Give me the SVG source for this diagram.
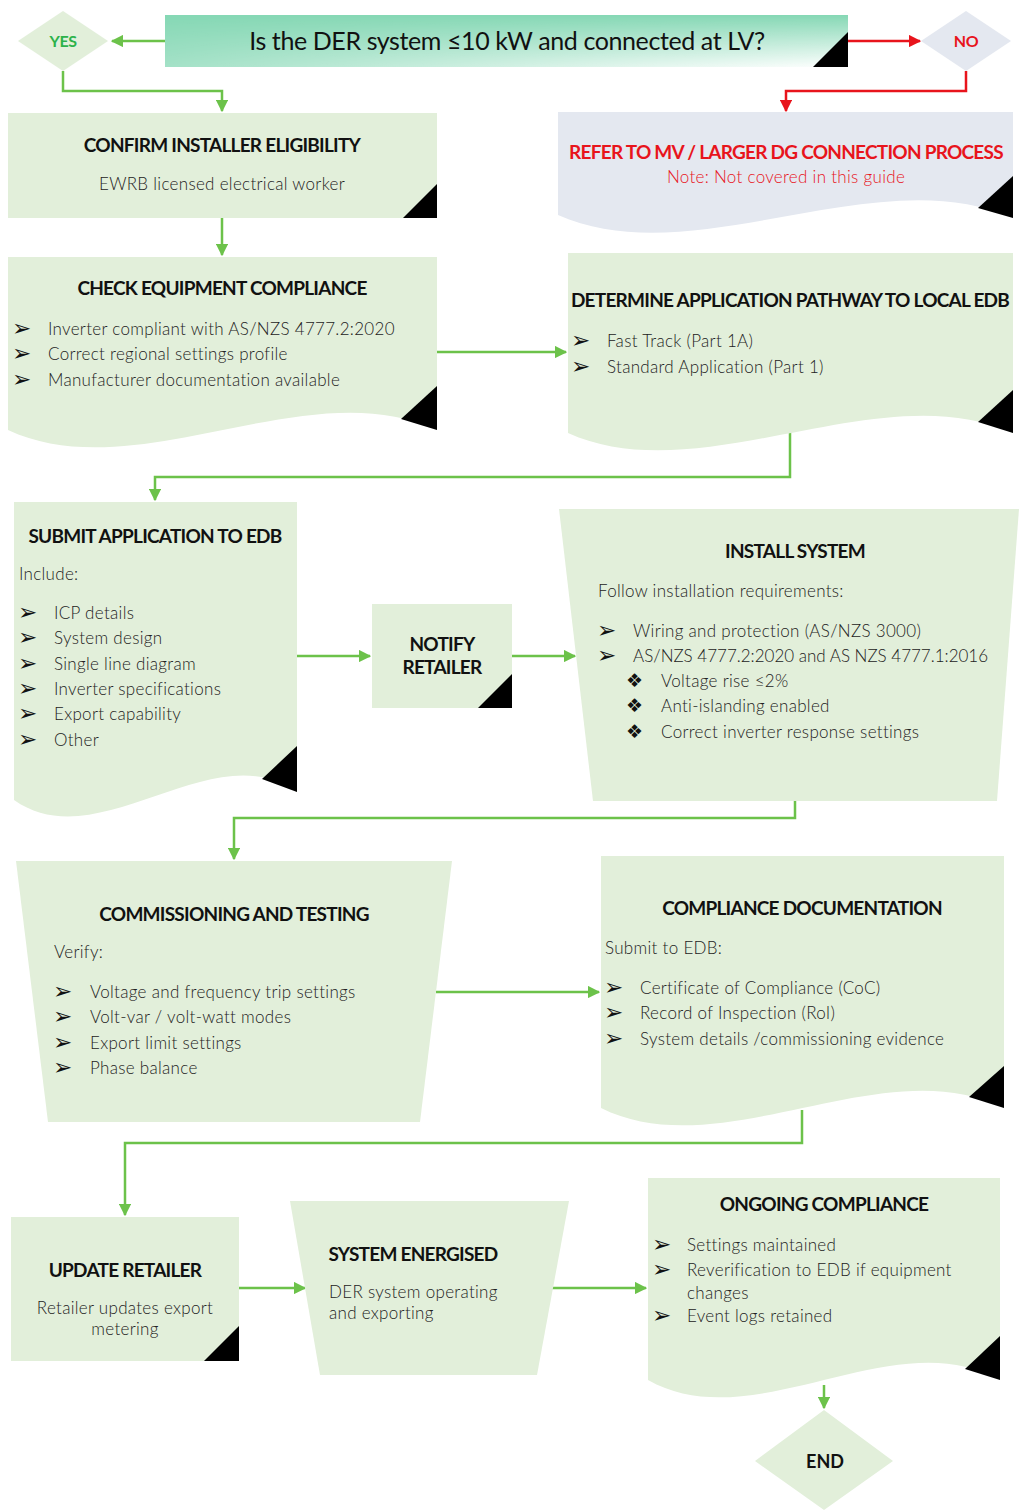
<svg xmlns="http://www.w3.org/2000/svg" width="1019" height="1510" viewBox="0 0 1019 1510">
<defs>
<style>
.box{fill:#E2EFDA;}
.grey{fill:#E4E8F0;}
.tri{fill:#000;}
.h{font-family:Lato,"Open Sans","Liberation Sans",sans-serif;font-weight:700;font-size:19px;fill:#111;letter-spacing:-0.75px;}
.t{font-family:Lato,"Open Sans","Liberation Sans",sans-serif;font-weight:300;font-size:17px;fill:#222;letter-spacing:0.3px;}
.b{font-family:"DejaVu Sans",sans-serif;font-size:23px;fill:#111;}
.d{font-family:"DejaVu Sans",sans-serif;font-size:19px;fill:#111;}
.c{text-anchor:middle;}
.g{fill:none;stroke:#6CC24A;stroke-width:2.5;}
.r{fill:none;stroke:#E8141C;stroke-width:2.5;}
</style>
<marker id="ag" viewBox="0 0 10 10" refX="9" refY="5" markerWidth="5" markerHeight="5" markerUnits="strokeWidth" orient="auto"><path d="M0,0 L10,5 L0,10 Z" fill="#6CC24A"/></marker>
<marker id="ar" viewBox="0 0 10 10" refX="9" refY="5" markerWidth="5" markerHeight="5" markerUnits="strokeWidth" orient="auto"><path d="M0,0 L10,5 L0,10 Z" fill="#E8141C"/></marker>
<linearGradient id="vw" x1="0" y1="0" x2="0" y2="1"><stop offset="0" stop-color="#fff" stop-opacity="0"/><stop offset="1" stop-color="#fff" stop-opacity="1"/></linearGradient>
<linearGradient id="hm" x1="0" y1="0" x2="1" y2="0"><stop offset="0" stop-color="#fff" stop-opacity="0.25"/><stop offset="1" stop-color="#fff" stop-opacity="1"/></linearGradient>
<mask id="m1" maskUnits="userSpaceOnUse" x="165" y="15" width="683" height="52"><rect x="165" y="15" width="683" height="52" fill="url(#hm)"/></mask>
</defs>

<g id="connectors">
<path class="g" d="M165,41 H112" marker-end="url(#ag)"/>
<path class="g" d="M63,71 V91 H222 V111" marker-end="url(#ag)"/>
<path class="r" d="M848,41 H920" marker-end="url(#ar)"/>
<path class="r" d="M966,71 V91 H786 V111" marker-end="url(#ar)"/>
<path class="g" d="M222,218 V255" marker-end="url(#ag)"/>
<path class="g" d="M437,352 H566" marker-end="url(#ag)"/>
<path class="g" d="M790,430 V477 H155 V500" marker-end="url(#ag)"/>
<path class="g" d="M297,656 H370" marker-end="url(#ag)"/>
<path class="g" d="M512,656 H575" marker-end="url(#ag)"/>
<path class="g" d="M795,801 V818 H234 V859" marker-end="url(#ag)"/>
<path class="g" d="M436,992 H599" marker-end="url(#ag)"/>
<path class="g" d="M802,1110 V1143 H125 V1215" marker-end="url(#ag)"/>
<path class="g" d="M239,1288 H305" marker-end="url(#ag)"/>
<path class="g" d="M552,1288 H646" marker-end="url(#ag)"/>
<path class="g" d="M824,1385 V1408" marker-end="url(#ag)"/>
</g>

<g id="question">
<rect x="165" y="15" width="683" height="52" fill="#86D8B5"/>
<rect x="165" y="15" width="683" height="52" fill="url(#vw)" mask="url(#m1)"/>
<polygon class="tri" points="813,67 848,67 848,32"/>
<text x="507" y="50" class="c" style="font-family:Lato,'Open Sans','DejaVu Sans',sans-serif;font-size:25px;fill:#111;letter-spacing:-0.4px;">Is the DER system ≤10 kW and connected at LV?</text>
</g>

<g id="yes">
<polygon class="box" points="63,11 108,41 63,71 18,41"/>
<text x="63" y="47" class="c" style="font-family:Lato,'Liberation Sans',sans-serif;font-weight:700;font-size:16px;fill:#2DB24A;letter-spacing:-0.5px;">YES</text>
</g>

<g id="no">
<polygon class="grey" points="966,11 1011,41 966,71 921,41"/>
<text x="966" y="47" class="c" style="font-family:Lato,'Liberation Sans',sans-serif;font-weight:700;font-size:16px;fill:#E8141C;letter-spacing:-0.5px;">NO</text>
</g>

<g id="confirm">
<rect class="box" x="8" y="113" width="429" height="105"/>
<polygon class="tri" points="403,218 437,218 437,184"/>
<text x="222" y="152" class="h c">CONFIRM INSTALLER ELIGIBILITY</text>
<text x="222" y="190" class="t c">EWRB licensed electrical worker</text>
</g>

<g id="refer">
<path class="grey" d="M558,112 H1013 V218 C876,158 694,275 558,215 Z"/>
<polygon class="tri" points="978,208 1013,218 1013,176"/>
<text x="786" y="159" class="h c" style="fill:#E8141C;">REFER TO MV / LARGER DG CONNECTION PROCESS</text>
<text x="786" y="183" class="t c" style="fill:#E8141C;">Note: Not covered in this guide</text>
</g>

<g id="check">
<path class="box" d="M8,257 H437 V430 C308,370 137,490 8,430 Z"/>
<polygon class="tri" points="401,419 437,430 437,386"/>
<text x="222" y="295" class="h c">CHECK EQUIPMENT COMPLIANCE</text>
<text x="12" y="336" class="b">➢</text><text x="48" y="335" class="t">Inverter compliant with AS/NZS 4777.2:2020</text>
<text x="12" y="361" class="b">➢</text><text x="48" y="360" class="t">Correct regional settings profile</text>
<text x="12" y="387" class="b">➢</text><text x="48" y="386" class="t">Manufacturer documentation available</text>
</g>

<g id="determine">
<path class="box" d="M568,253 H1013 V433 C880,373 701,493 568,433 Z"/>
<polygon class="tri" points="978,422 1013,433 1013,390"/>
<text x="790" y="307" class="h c">DETERMINE APPLICATION PATHWAY TO LOCAL EDB</text>
<text x="571" y="348" class="b">➢</text><text x="607" y="347" class="t">Fast Track (Part 1A)</text>
<text x="571" y="374" class="b">➢</text><text x="607" y="373" class="t">Standard Application (Part 1)</text>
</g>

<g id="submit">
<path class="box" d="M14,502 H297 V792 C212,732 99,860 14,800 Z"/>
<polygon class="tri" points="262,779 297,792 297,746"/>
<text x="155" y="543" class="h c">SUBMIT APPLICATION TO EDB</text>
<text x="19" y="580" class="t">Include:</text>
<text x="18" y="620" class="b">➢</text><text x="54" y="619" class="t">ICP details</text>
<text x="18" y="645" class="b">➢</text><text x="54" y="644" class="t">System design</text>
<text x="18" y="671" class="b">➢</text><text x="54" y="670" class="t">Single line diagram</text>
<text x="18" y="696" class="b">➢</text><text x="54" y="695" class="t">Inverter specifications</text>
<text x="18" y="721" class="b">➢</text><text x="54" y="720" class="t">Export capability</text>
<text x="18" y="747" class="b">➢</text><text x="54" y="746" class="t">Other</text>
</g>

<g id="notify">
<rect class="box" x="372" y="604" width="140" height="104"/>
<polygon class="tri" points="478,708 512,708 512,674"/>
<text x="442" y="651" class="h c">NOTIFY</text>
<text x="442" y="674" class="h c">RETAILER</text>
</g>

<g id="install">
<polygon class="box" points="559,509 1019,509 997,801 593,801"/>
<text x="795" y="558" class="h c">INSTALL SYSTEM</text>
<text x="598" y="597" class="t">Follow installation requirements:</text>
<text x="597" y="638" class="b">➢</text><text x="633" y="637" class="t">Wiring and protection (AS/NZS 3000)</text>
<text x="597" y="663" class="b">➢</text><text x="633" y="662" class="t" style="letter-spacing:0px;">AS/NZS 4777.2:2020 and AS NZS 4777.1:2016</text>
<text x="626" y="687" class="d">❖</text><text x="661" y="687" class="t">Voltage rise ≤2%</text>
<text x="626" y="712" class="d">❖</text><text x="661" y="712" class="t">Anti-islanding enabled</text>
<text x="626" y="738" class="d">❖</text><text x="661" y="738" class="t">Correct inverter response settings</text>
</g>

<g id="commissioning">
<polygon class="box" points="16,861 452,861 420,1122 48,1122"/>
<text x="234" y="921" class="h c">COMMISSIONING AND  TESTING</text>
<text x="54" y="958" class="t">Verify:</text>
<text x="53" y="999" class="b">➢</text><text x="90" y="998" class="t">Voltage and frequency trip settings</text>
<text x="53" y="1024" class="b">➢</text><text x="90" y="1023" class="t">Volt-var / volt-watt modes</text>
<text x="53" y="1050" class="b">➢</text><text x="90" y="1049" class="t">Export limit settings</text>
<text x="53" y="1075" class="b">➢</text><text x="90" y="1074" class="t">Phase balance</text>
</g>

<g id="documentation">
<path class="box" d="M601,856 H1004 V1108 C883,1048 722,1168 601,1108 Z"/>
<polygon class="tri" points="969,1097 1004,1108 1004,1066"/>
<text x="802" y="915" class="h c">COMPLIANCE DOCUMENTATION</text>
<text x="605" y="954" class="t">Submit to EDB:</text>
<text x="604" y="995" class="b">➢</text><text x="640" y="994" class="t">Certificate of Compliance (CoC)</text>
<text x="604" y="1020" class="b">➢</text><text x="640" y="1019" class="t">Record of Inspection (RoI)</text>
<text x="604" y="1046" class="b">➢</text><text x="640" y="1045" class="t">System details /commissioning evidence</text>
</g>

<g id="update">
<rect class="box" x="11" y="1217" width="228" height="144"/>
<polygon class="tri" points="204,1361 239,1361 239,1326"/>
<text x="125" y="1277" class="h c">UPDATE RETAILER</text>
<text x="125" y="1314" class="t c">Retailer updates export</text>
<text x="125" y="1335" class="t c">metering</text>
</g>

<g id="energised">
<polygon class="box" points="290,1201 569,1201 537,1375 320,1375"/>
<text x="413" y="1261" class="h c">SYSTEM ENERGISED</text>
<text x="329" y="1298" class="t">DER system operating</text>
<text x="329" y="1319" class="t">and exporting</text>
</g>

<g id="ongoing">
<path class="box" d="M648,1178 H1000 V1380 C894,1320 754,1440 648,1380 Z"/>
<polygon class="tri" points="965,1369 1000,1380 1000,1336"/>
<text x="824" y="1211" class="h c">ONGOING COMPLIANCE</text>
<text x="652" y="1252" class="b">➢</text><text x="687" y="1251" class="t">Settings maintained</text>
<text x="652" y="1277" class="b">➢</text><text x="687" y="1276" class="t">Reverification to EDB if equipment</text>
<text x="687" y="1299" class="t">changes</text>
<text x="652" y="1323" class="b">➢</text><text x="687" y="1322" class="t">Event logs retained</text>
</g>

<g id="end">
<polygon class="box" points="824,1410 893,1461 824,1510 755,1461"/>
<text x="825" y="1468" class="c" style="font-family:Lato,'Liberation Sans',sans-serif;font-weight:700;font-size:18px;fill:#111;">END</text>
</g>
</svg>
